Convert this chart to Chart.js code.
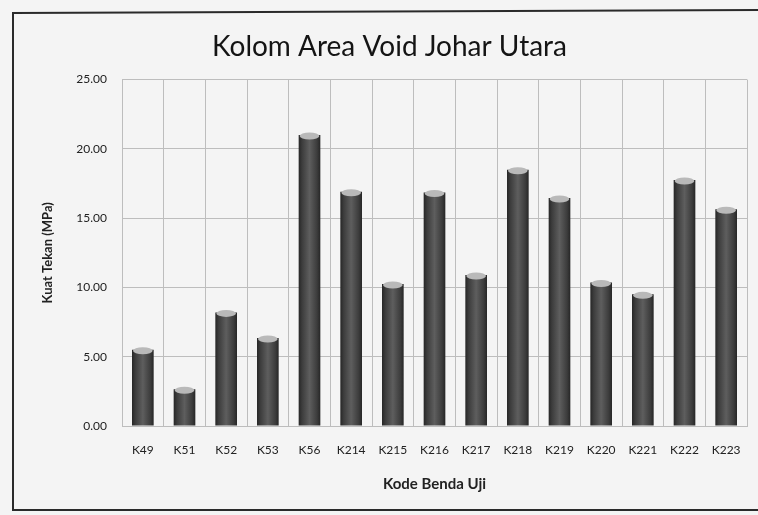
<!DOCTYPE html>
<html>
<head>
<meta charset="utf-8">
<script src="https://cdn.jsdelivr.net/npm/chart.js@4.4.1/dist/chart.umd.min.js"></script>
<style>
  html, body { margin: 0; padding: 0; background: #f4f4f4; }
  #wrap { position: relative; width: 758px; height: 515px; }
  canvas { display: block; }
</style>
</head>
<body>
<div id="wrap"><canvas id="c" width="758" height="515"></canvas></div>
<script>
const categories = ['K49','K51','K52','K53','K56','K214','K215','K216','K217','K218','K219','K220','K221','K222','K223'];
const kuatTekan = [5.5, 2.65, 8.2, 6.35, 21.0, 16.9, 10.25, 16.85, 10.9, 18.5, 16.45, 10.35, 9.5, 17.75, 15.65];
const yTicks = [0, 5, 10, 15, 20, 25];
const chartTitle = 'Kolom Area Void Johar Utara';
const xTitle = 'Kode Benda Uji';
const yTitle = 'Kuat Tekan (MPa)';

const FONT = "Lato, 'Open Sans', sans-serif";
const BAR_PCT = 0.52;

const framePlugin = {
  id: 'frame',
  beforeDraw(chart) {
    const c = chart.ctx;
    c.save();
    c.fillStyle = '#f4f4f4';
    c.fillRect(0, 0, chart.width, chart.height);
    c.strokeStyle = '#2a2a2a';
    c.lineWidth = 2;
    c.beginPath();
    c.moveTo(780, 10);
    c.lineTo(13, 13);
    c.lineTo(13, 510);
    c.lineTo(780, 510);
    c.stroke();
    c.restore();
  }
};

const capPlugin = {
  id: 'caps',
  afterDatasetsDraw(chart) {
    const meta = chart.getDatasetMeta(0);
    const c = chart.ctx;
    c.save();
    meta.data.forEach(el => {
      const p = el.getProps(['x', 'y', 'width'], true);
      c.beginPath();
      c.ellipse(p.x, p.y + 1, p.width / 2 - 1, 3.5, 0, 0, Math.PI * 2);
      c.fillStyle = '#b9b9b9';
      c.fill();
    });
    c.restore();
  }
};

new Chart(document.getElementById('c'), {
  type: 'bar',
  data: {
    labels: categories,
    datasets: [{
      data: kuatTekan,
      categoryPercentage: 1,
      barPercentage: BAR_PCT,
      borderWidth: 0,
      backgroundColor: (ctx) => {
        const chart = ctx.chart;
        const xs = chart.scales && chart.scales.x;
        if (!xs || ctx.type !== 'data' || !isFinite(xs.width) || xs.width <= 0) return '#4a4a4a';
        const cx = xs.getPixelForValue(ctx.dataIndex);
        const w = (xs.width / categories.length) * BAR_PCT;
        const g = chart.ctx.createLinearGradient(cx - w / 2, 0, cx + w / 2, 0);
        g.addColorStop(0, '#262626');
        g.addColorStop(0.15, '#3c3c3c');
        g.addColorStop(0.5, '#5e5e5e');
        g.addColorStop(0.85, '#3c3c3c');
        g.addColorStop(1, '#262626');
        return g;
      }
    }]
  },
  options: {
    responsive: false,
    animation: false,
    devicePixelRatio: 1,
    layout: { padding: { left: 32, right: 11, top: 0, bottom: 0 } },
    plugins: {
      legend: { display: false },
      tooltip: { enabled: false },
      title: {
        display: true,
        text: chartTitle,
        color: '#141414',
        font: { family: FONT, size: 28, weight: 'normal' },
        padding: { top: 30, bottom: 16 }
      }
    },
    scales: {
      x: {
        afterFit(scale) { scale.height = 89; },
        grid: { display: true, offset: true, color: '#bdbdbd', lineWidth: 1, drawTicks: false },
        border: { display: true, color: '#bdbdbd' },
        ticks: { color: '#222', font: { family: FONT, size: 12 }, padding: 17, maxRotation: 0, autoSkip: false },
        title: {
          display: true, text: xTitle, color: '#222',
          font: { family: FONT, size: 15, weight: 'bold' },
          padding: { top: 0, bottom: 22 }
        }
      },
      y: {
        min: 0, max: 25,
        afterFit(scale) { scale.width = 90; },
        afterBuildTicks(scale) { scale.ticks = yTicks.map(v => ({ value: v })); },
        grid: { color: '#bdbdbd', lineWidth: 1, drawTicks: false },
        border: { display: true, color: '#bdbdbd' },
        ticks: {
          color: '#222', font: { family: FONT, size: 12 }, padding: 15,
          callback: (v) => Number(v).toFixed(2)
        },
        title: {
          display: true, text: yTitle, color: '#222',
          font: { family: FONT, size: 13, weight: 'bold' },
          padding: { top: 8, bottom: 0 }
        }
      }
    }
  },
  plugins: [framePlugin, capPlugin]
});
</script>
</body>
</html>
